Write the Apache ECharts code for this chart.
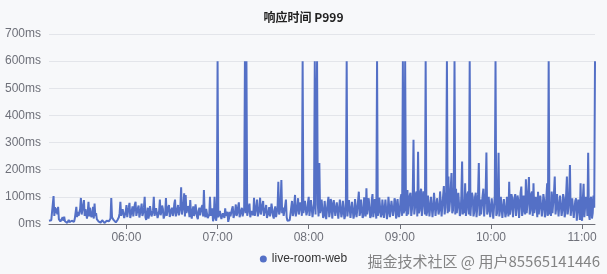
<!DOCTYPE html>
<html>
<head>
<meta charset="utf-8">
<script src="https://cdn.jsdelivr.net/npm/echarts@6/dist/echarts.min.js"></script>
<style>
html,body{margin:0;padding:0;background:#f7f8fa;}
#chart{width:607px;height:274px;}
</style>
</head>
<body>
<div id="chart"></div>
<script>
// One value every 30 seconds starting at 05:09:00 (ms)
const startHour = 5;
const startMinute = 9;
const seriesName = 'live-room-web';
const yTicks = [0, 100, 200, 300, 400, 500, 600, 700];
const latencyMs = [
  12,8, 10,14, 15,11, 103,30, 62,40, 58,35, 63,18, 20,9, 2,6, 25,12,
  27,10, 10,5, 4,9, 15,7, 8,13, 12,10, 14,8, 20,15, 63,25, 45,30,
  30,55, 96,35, 40,70, 88,30, 55,40, 20,45, 82,28, 60,35, 25,40, 63,20,
  75,30, 40,18, 15,10, 12,8, 5,12, 14,9, 10,4, 3,11, 12,14, 15,10,
  14,20, 96,25, 30,15, 12,8, 6,12, 14,10, 25,40, 82,30, 35,55, 60,22,
  20,45, 70,25, 45,60, 78,22, 25,50, 65,28, 50,72, 82,30, 30,58, 68,24,
  22,55, 75,30, 40,62, 100,25, 15,38, 60,20, 35,66, 72,28, 28,50, 100,30,
  30,58, 65,22, 20,48, 90,32, 45,68, 55,20, 18,40, 96,30, 35,62, 70,26,
  25,52, 60,30, 40,75, 90,28, 22,55, 70,32, 38,64, 135,35, 30,70, 113,28,
  107,40, 35,66, 55,25, 88,38, 20,50, 65,30, 40,72, 75,26, 18,48, 60,32,
  30,62, 70,28, 125,40, 25,56, 60,22, 15,35, 100,30, 35,58, 10,22, 100,35,
  12,30, 600,25, 20,48, 55,18, 15,40, 40,22, 58,30, 25,45, 8,20, 45,28,
  30,55, 65,22, 18,45, 72,30, 40,62, 80,25, 22,50, 60,28, 35,58, 600,40,
  600,30, 30,60, 75,25, 20,48, 55,32, 97,30, 35,65, 90,28, 28,55, 97,35,
  40,70, 85,30, 25,55, 70,22, 18,45, 62,28, 45,75, 80,30, 20,52, 65,25,
  30,60, 156,35, 45,80, 162,40, 60,30, 35,68, 90,25, 12,18, 8,14, 20,10,
  85,30, 40,75, 107,28, 30,65, 95,35, 55,80, 70,30, 600,40, 60,85, 90,32,
  45,80, 100,30, 60,88, 85,25, 50,75, 600,35, 30,600, 70,28, 225,40, 55,90,
  95,22, 30,85, 88,18, 20,78, 100,25, 45,92, 78,20, 25,88, 92,30, 35,80,
  85,20, 22,90, 97,25, 40,85, 80,18, 30,95, 600,28, 60,88, 90,22, 25,82,
  88,20, 35,92, 95,25, 28,85, 119,30, 45,90, 85,22, 30,98, 100,28, 132,35,
  40,95, 98,22, 30,88, 110,25, 50,92, 92,20, 600,30, 45,97, 100,25, 35,90,
  95,22, 25,90, 88,18, 40,100, 100,25, 20,85, 92,30, 50,95, 85,20, 30,92,
  90,25, 45,95, 110,30, 600,40, 50,600, 80,30, 125,35, 40,105, 115,30, 55,110,
  310,35, 60,110, 120,28, 266,40, 50,115, 130,30, 70,120, 100,35, 600,30, 45,105,
  105,28, 30,100, 95,25, 60,115, 110,30, 25,95, 100,35, 50,120, 120,28, 35,105,
  140,35, 60,120, 600,40, 175,45, 80,130, 188,40, 50,110, 600,35, 130,40, 70,115,
  110,30, 40,105, 230,35, 90,40, 150,30, 55,110, 120,35, 600,30, 80,115, 100,28,
  45,100, 115,25, 60,110, 225,30, 90,35, 35,105, 130,28, 70,115, 263,35, 50,100,
  100,25, 30,95, 95,20, 60,105, 600,30, 40,90, 262,28, 55,100, 100,22, 25,92,
  90,25, 40,100, 105,28, 156,35, 55,110, 95,25, 30,98, 110,30, 60,105, 88,22,
  60,115, 138,30, 45,105, 100,35, 165,40, 70,120, 173,35, 50,110, 120,30, 150,40,
  40,100, 95,25, 119,35, 30,105, 100,28, 55,110, 90,25, 35,100, 150,30, 600,35,
  80,30, 120,40, 45,115, 175,35, 60,110, 110,28, 35,105, 100,30, 50,110, 95,25,
  40,110, 175,35, 60,105, 217,30, 30,95, 100,22, 20,85, 95,12, 45,90, 80,15,
  150,20, 12,95, 148,25, 25,100, 90,30, 262,35, 15,90, 100,20, 40,105, 60,600
];
const pad = n => (n < 10 ? '0' : '') + n;
const timeLabels = latencyMs.map((_, i) => {
  const m = startHour * 60 + startMinute + Math.floor(i / 2);
  return pad(Math.floor(m / 60)) + ':' + pad(m % 60) + ':' + (i % 2 ? '30' : '00');
});
const isHour = (i, v) => v.endsWith(':00:00');

const chart = echarts.init(document.getElementById('chart'), null, {renderer: 'canvas'});
chart.setOption({
  backgroundColor: '#f7f8fa',
  animation: false,
  title: {
    text: '响应时间 P999',
    left: 'center',
    top: 6,
    textStyle: {fontSize: 12, fontWeight: 'bold', color: '#222', fontFamily: 'Noto Sans CJK SC, sans-serif'}
  },
  legend: {
    data: [seriesName],
    left: 'center',
    bottom: 4,
    icon: 'circle',
    itemWidth: 7,
    itemHeight: 7,
    textStyle: {fontSize: 12, color: '#333'}
  },
  grid: {left: 49, right: 12, top: 34, bottom: 50},
  xAxis: {
    type: 'category',
    boundaryGap: false,
    data: timeLabels,
    axisLine: {lineStyle: {color: '#6e7079'}},
    axisTick: {interval: isHour, lineStyle: {color: '#6e7079'}},
    axisLabel: {interval: isHour, color: '#6e7079', fontSize: 12, formatter: v => v.slice(0, 5)}
  },
  yAxis: {
    type: 'value',
    min: yTicks[0],
    max: yTicks[yTicks.length - 1],
    interval: 100,
    axisLabel: {formatter: '{value}ms', color: '#6e7079', fontSize: 12},
    splitLine: {lineStyle: {color: '#e3e5ea'}}
  },
  graphic: [{
    type: 'text',
    right: 7,
    bottom: 5,
    style: {
      text: '掘金技术社区 @ 用户85565141446',
      fontSize: 15,
      fill: 'rgba(110,110,110,0.85)',
      fontFamily: 'Noto Sans CJK SC, sans-serif'
    },
    z: 100
  }],
  series: [{
    name: seriesName,
    type: 'line',
    data: latencyMs,
    showSymbol: false,
    symbol: 'circle',
    lineStyle: {width: 2, color: '#5470c6'},
    itemStyle: {color: '#5470c6'}
  }]
});
</script>
</body>
</html>
